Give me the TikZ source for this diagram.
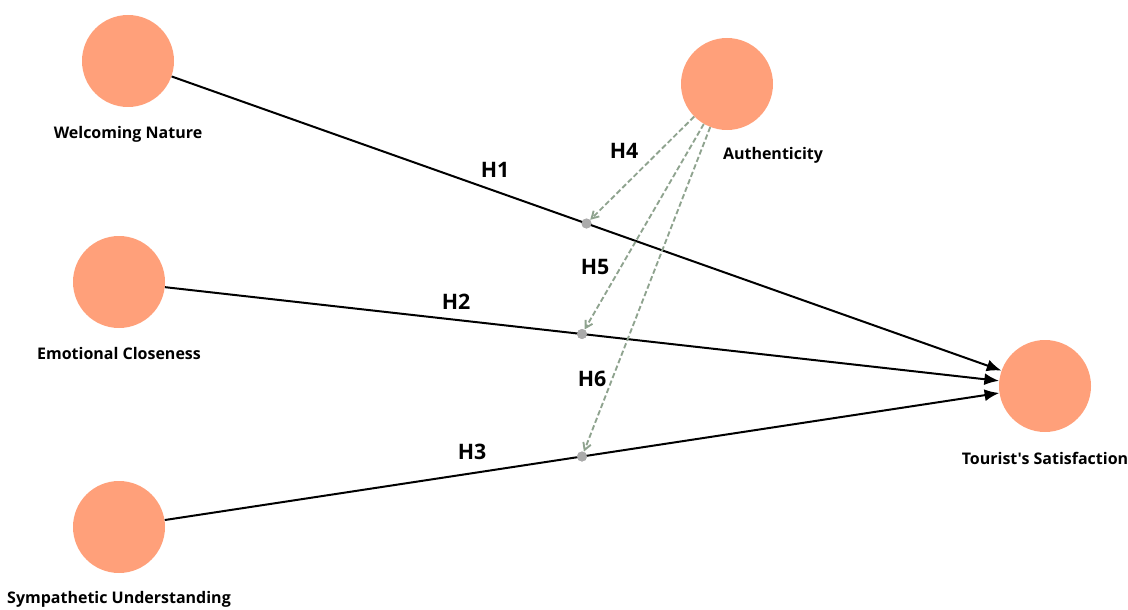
\documentclass[tikz,border=0pt]{standalone}
\usepackage{fontspec}
\setmainfont[Ligatures=TeXOff]{Open Sans}
\usepackage{tikz}
\usetikzlibrary{calc,positioning,arrows.meta}
\definecolor{latent}{HTML}{FFA07A}
\definecolor{moder}{HTML}{8FA38F}
\definecolor{joint}{HTML}{ABABAB}

\begin{document}
\begin{tikzpicture}[
  x=0.75pt,y=-0.75pt,
  lv/.style={circle,fill=latent,minimum size=69pt,inner sep=0pt},
  lvname/.style={font=\fontsize{12}{14}\selectfont\bfseries,inner sep=0pt},
  hyp/.style={font=\fontsize{16}{18}\selectfont\bfseries,inner sep=0pt},
  path/.style={-{Latex[length=11pt,width=9pt]},line width=1.5pt},
  modpath/.style={-{Straight Barb[angle=60:6pt]},moder,line width=1.4pt,dash pattern=on 4pt off 2pt},
  dot/.style={circle,fill=joint,minimum size=7.5pt,inner sep=0pt}
]
  \useasboundingbox (0,0) rectangle (1128,610);
  % constructs
  \node[lv] (wn) at (128,61) {};
  \node[lv] (ec) at (119,282) {};
  \node[lv] (su) at (119,527) {};
  \node[lv] (au) at (727,84) {};
  \node[lv] (ts) at (1045,386) {};
  \node[lvname,below=14pt of wn] (wnt) {Welcoming Nature};
  \node[lvname,below=14pt of ec] (ect) {Emotional Closeness};
  \node[lvname,below=13pt of su] (sut) {Sympathetic Understanding};
  \node[lvname,below=12.5pt of au,xshift=34.5pt] (aut) {Authenticity};
  \node[lvname,below=14.5pt of ts] (tst) {Tourist's Satisfaction};
  % interaction points
  \node[dot] (m1) at ($(wn)!0.5!(ts)$) {};
  \node[dot] (m2) at ($(ec)!0.5!(ts)$) {};
  \node[dot] (m3) at ($(su)!0.5!(ts)$) {};
  % direct effects
  \draw[path] (wn) -- (ts);
  \draw[path] (ec) -- (ts);
  \draw[path] (su) -- (ts);
  % moderation
  \draw[modpath] (au) -- (m1);
  \draw[modpath] (au) -- (m2);
  \draw[modpath] (au) -- (m3);
  \node[dot] at (m1) {};
  \node[dot] at (m2) {};
  \node[dot] at (m3) {};
  % hypotheses
  \node[hyp] (h1) at (495,170) {H1};
  \node[hyp] (h2) at (456,302) {H2};
  \node[hyp] (h3) at (472,452) {H3};
  \node[hyp] (h4) at (624,151) {H4};
  \node[hyp] (h5) at (595,267) {H5};
  \node[hyp] (h6) at (592,379) {H6};
\end{tikzpicture}
\end{document}
